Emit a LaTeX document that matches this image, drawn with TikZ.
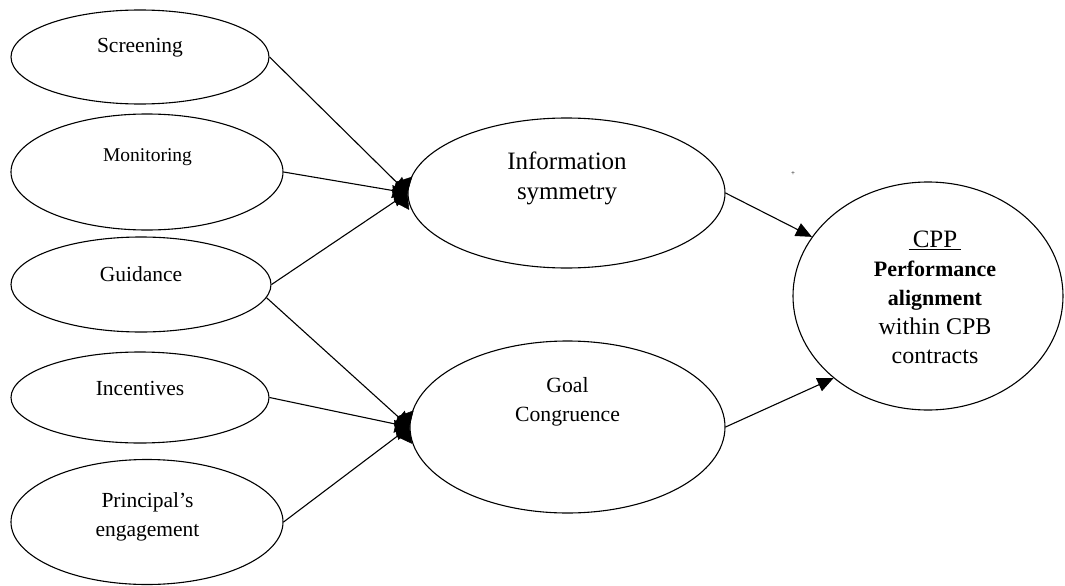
\documentclass[tikz,border=0pt]{standalone}
\usepackage{fontspec}
\setmainfont{Liberation Serif}
\usetikzlibrary{shapes.geometric,arrows.meta}
\tikzset{
  oval/.style={draw, ellipse, line width=1.1pt, inner sep=0pt},
  lbl/.style={align=center, inner sep=0pt, font=\fontsize{21.5}{29}\selectfont},
  pal/.style={align=center, inner sep=0pt, font=\fontsize{25}{30}\selectfont},
  feed/.style={line width=1.1pt, -{Diamond[length=16pt,width=30pt,line width=0.5pt]}},
  lead/.style={line width=1.1pt, -{Triangle[length=16pt,width=14pt]}}
}
\begin{document}
\begin{tikzpicture}[x=1pt,y=-1pt]
\useasboundingbox (0,0) rectangle (1065,586);
% left ellipses
\node[oval, minimum width=258pt, minimum height=94pt] (scr) at (140,57) {};
\node[oval, minimum width=272pt, minimum height=116pt] (mon) at (147,172) {};
\node[oval, minimum width=260pt, minimum height=95pt] (gui) at (141,284.5) {};
\node[oval, minimum width=258pt, minimum height=91pt] (inc) at (140,397.5) {};
\node[oval, minimum width=272pt, minimum height=125pt] (pri) at (147,522) {};
% middle ellipses
\node[oval, minimum width=317pt, minimum height=150pt] (info) at (566.5,193) {};
\node[oval, minimum width=315pt, minimum height=172pt] (goal) at (567.5,427) {};
% right ellipse
\node[oval, minimum width=270pt, minimum height=228pt] (cpp) at (928,296) {};
% texts
\node[lbl] (tscr) at (140,48) {Screening};
\node[lbl, font=\fontsize{19.5}{26}\selectfont] (tmon) at (147.5,157) {Monitoring};
\node[lbl] (tgui) at (141,274) {Guidance};
\node[lbl] (tinc) at (140,388) {Incentives};
\node[lbl] (tpri) at (147.5,517) {Principal’s\\engagement};
\node[pal] (tinfo) at (567,178) {Information\\symmetry};
\node[lbl, font=\fontsize{21.7}{29}\selectfont] (tgoal) at (567.5,402) {Goal\\Congruence};
\node[align=center, inner sep=0pt, font=\fontsize{24}{29}\selectfont] (tcpp) at (935,297.5)
  {\fontsize{25}{29}\selectfont\underline{\,CPP\,}\\
   {\fontsize{22}{29}\selectfont\bfseries Performance}\\
   {\fontsize{22}{29}\selectfont\bfseries alignment}\\
   within CPB\\contracts};
\node[inner sep=0pt, font=\fontsize{7}{7}\selectfont] (plus) at (793,174) {+};
% connectors
\draw[feed] (scr.east) -- (info.west);
\draw[feed] (mon.east) -- (info.west);
\draw[feed] (gui.east) -- (info.west);
\draw[feed] (gui.-6) -- (goal.west);
\draw[feed] (inc.east) -- (goal.west);
\draw[feed] (pri.east) -- (goal.west);
\draw[lead] (info.east) -- (cpp.153);
\draw[lead] (goal.east) -- (cpp.221);
\end{tikzpicture}
\end{document}
